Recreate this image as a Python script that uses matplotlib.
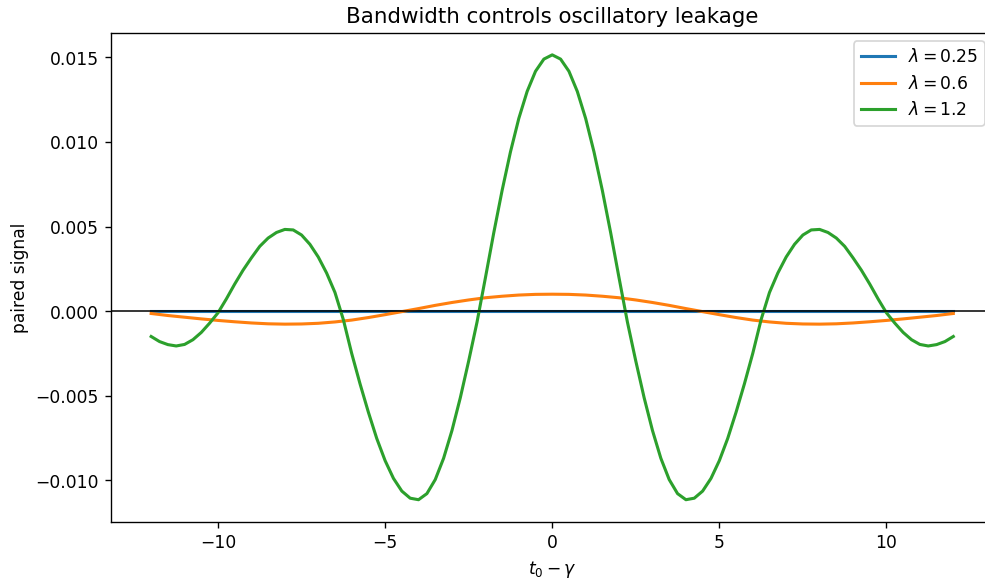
import matplotlib
matplotlib.use("Agg")
import matplotlib.pyplot as plt
import numpy as np

# ---- data (values in units of 1e-3) ----
t_fine = [-12.0, -11.75, -11.5, -11.25, -11.0, -10.75, -10.5, -10.25, -10.0,
          -9.75, -9.5, -9.25, -9.0, -8.75, -8.5, -8.25, -8.0,
          -7.75, -7.5, -7.25, -7.0, -6.75, -6.5, -6.25, -6.0,
          -5.75, -5.5, -5.25, -5.0, -4.75, -4.5, -4.25, -4.0,
          -3.75, -3.5, -3.25, -3.0, -2.75, -2.5, -2.25, -2.0,
          -1.75, -1.5, -1.25, -1.0, -0.75, -0.5, -0.25, 0.0,
          0.25, 0.5, 0.75, 1.0, 1.25, 1.5, 1.75, 2.0,
          2.25, 2.5, 2.75, 3.0, 3.25, 3.5, 3.75, 4.0,
          4.25, 4.5, 4.75, 5.0, 5.25, 5.5, 5.75, 6.0,
          6.25, 6.5, 6.75, 7.0, 7.25, 7.5, 7.75, 8.0,
          8.25, 8.5, 8.75, 9.0, 9.25, 9.5, 9.75, 10.0,
          10.25, 10.5, 10.75, 11.0, 11.25, 11.5, 11.75, 12.0]

green_1e3 = [-1.50, -1.80, -1.98, -2.06, -1.97, -1.69, -1.26, -0.71, -0.10,
             0.72, 1.60, 2.42, 3.15, 3.83, 4.32, 4.65, 4.83,
             4.80, 4.50, 3.95, 3.20, 2.25, 1.10, -0.50, -2.50,
             -4.30, -5.98, -7.53, -8.84, -9.89, -10.64, -11.06, -11.15,
             -10.79, -9.96, -8.70, -7.06, -5.12, -2.95, -0.65, 1.96,
             4.62, 7.13, 9.41, 11.39, 12.99, 14.18, 14.90, 15.15,
             14.90, 14.18, 12.99, 11.39, 9.41, 7.13, 4.62, 1.96,
             -0.65, -2.95, -5.12, -7.06, -8.70, -9.96, -10.79, -11.15,
             -11.06, -10.64, -9.89, -8.84, -7.53, -5.98, -4.30, -2.50,
             -0.50, 1.10, 2.25, 3.20, 3.95, 4.50, 4.80, 4.83,
             4.65, 4.32, 3.83, 3.15, 2.42, 1.60, 0.72, -0.10,
             -0.71, -1.26, -1.69, -1.97, -2.06, -1.98, -1.80, -1.50]

t_coarse = [-12.0, -11.5, -11.0, -10.5, -10.0, -9.5, -9.0, -8.5, -8.0,
            -7.5, -7.0, -6.5, -6.0, -5.5, -5.0, -4.5, -4.0,
            -3.5, -3.0, -2.5, -2.0, -1.5, -1.0, -0.5, 0.0,
            0.5, 1.0, 1.5, 2.0, 2.5, 3.0, 3.5, 4.0,
            4.5, 5.0, 5.5, 6.0, 6.5, 7.0, 7.5, 8.0,
            8.5, 9.0, 9.5, 10.0, 10.5, 11.0, 11.5, 12.0]

orange_1e3 = [-0.14, -0.26, -0.36, -0.46, -0.55, -0.63, -0.70, -0.75, -0.77,
              -0.76, -0.72, -0.64, -0.53, -0.38, -0.21, -0.03, 0.15,
              0.34, 0.51, 0.66, 0.79, 0.88, 0.95, 0.99, 1.00,
              0.99, 0.95, 0.88, 0.79, 0.66, 0.51, 0.34, 0.15,
              -0.03, -0.21, -0.38, -0.53, -0.64, -0.72, -0.76, -0.77,
              -0.75, -0.70, -0.63, -0.55, -0.46, -0.36, -0.26, -0.14]

blue_1e3 = [0.02, 0.02, 0.02, 0.02, 0.02, 0.02, 0.02, 0.02, 0.02,
            0.02, 0.02, 0.02, 0.02, 0.02, 0.02, 0.02, 0.02,
            0.02, 0.02, 0.02, 0.02, 0.02, 0.02, 0.02, 0.02,
            0.02, 0.02, 0.02, 0.02, 0.02, 0.02, 0.02, 0.02,
            0.02, 0.02, 0.02, 0.02, 0.02, 0.02, 0.02, 0.02,
            0.02, 0.02, 0.02, 0.02, 0.02, 0.02, 0.02, 0.02]

labels = [r"$\lambda = 0.25$", r"$\lambda = 0.6$", r"$\lambda = 1.2$"]

DPI = 123
fig = plt.figure(figsize=(985.4 / DPI, 584.4 / DPI), dpi=DPI)
ax = fig.add_axes([111 / 985, 62 / 584, (993 - 111) / 985, (522 - 33) / 584])

LW = 1.8
ax.plot(t_coarse, np.array(blue_1e3) * 1e-3, color="#1f77b4", lw=LW, label=labels[0])
ax.plot(t_coarse, np.array(orange_1e3) * 1e-3, color="#ff7f0e", lw=LW, label=labels[1])
ax.plot(t_fine, np.array(green_1e3) * 1e-3, color="#2ca02c", lw=LW, label=labels[2])
ax.axhline(0, color="black", linewidth=0.9)

ax.set_title("Bandwidth controls oscillatory leakage", fontsize=12.5)
ax.set_xlabel(r"$t_0-\gamma$")
ax.set_ylabel("paired signal")
ax.legend(loc="upper right")

fig.savefig("out.png", dpi=DPI)
